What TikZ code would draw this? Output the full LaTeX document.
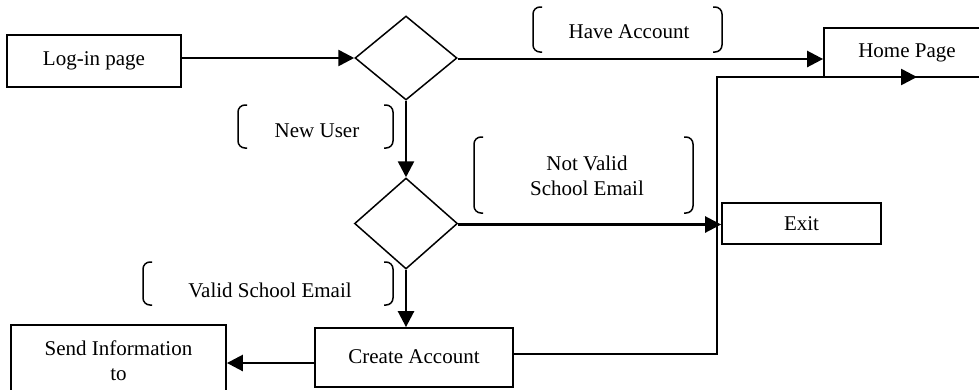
\documentclass[tikz,border=0pt]{standalone}
\usepackage{fontspec}
\setmainfont{Liberation Serif}
\usetikzlibrary{shapes.geometric,arrows.meta}

\tikzset{
  box/.style={draw, line width=1.8pt, inner sep=0pt, align=center},
  decision/.style={draw, diamond, line width=1.5pt, inner sep=0pt},
  flow/.style={line width=2.6pt, -{Triangle[length=16pt,width=16pt]}},
  tag/.style={inner sep=0pt, align=center},
  brace/.style={line width=1.5pt, rounded corners=7pt},
}

% left/right bracket pair around a label: left x, right x, top y, bottom y
\newcommand{\bracketpair}[4]{%
  \draw[brace] (#1+9,#3) -- (#1,#3) -- (#1,#4) -- (#1+9,#4);
  \draw[brace] (#2-9,#3) -- (#2,#3) -- (#2,#4) -- (#2-9,#4);
}

\begin{document}
\begin{tikzpicture}[x=1pt, y=-1pt, font=\fontsize{21}{25}\selectfont]
\useasboundingbox (0,0) rectangle (979,389);
\clip (0,0) rectangle (979,389);

% boxes and decisions
\node[box, minimum width=174pt, minimum height=52pt] (login) at (94,61) {Log-in page};
\node[decision, minimum width=102pt, minimum height=84pt] (d1) at (406,58) {};
\node[box, minimum width=166pt, minimum height=49pt] (home) at (907,52.5) {\raisebox{-2pt}{Home Page}};
\node[decision, minimum width=103pt, minimum height=91pt] (d2) at (406,223.5) {};
\node[box, minimum width=159pt, minimum height=41pt] (exit) at (801.5,223.5) {Exit};
\node[box, minimum width=198pt, minimum height=59pt] (create) at (414,357.5) {\raisebox{2pt}{Create Account}};
\node[box, minimum width=215pt, minimum height=71pt] (send) at (118.5,360.5) {Send Information\\to};

% branch labels with their brackets
\node[tag] (lhave) at (629,32) {Have Account};
\bracketpair{533}{722}{7}{52}
\node[tag] (lnew) at (317,131) {New User};
\bracketpair{238}{393}{105}{148}
\node[tag] (lnot) at (587,176) {Not Valid\\School Email};
\bracketpair{474}{693}{137}{213}
\node[tag] (lvalid) at (270,290) {Valid School Email};
\bracketpair{143}{393}{262}{305}

% connectors
\coordinate (jog) at (717,77);
\coordinate (homein) at (917,77);
\draw[flow] (login.east |- d1.west) -- (d1.west);
\draw[flow] ([yshift=-1pt]d1.east) -- ([yshift=-1pt]d1.east -| home.west);
\draw[flow] (d1.south) -- (d2.north);
\draw[flow] ([yshift=-1pt]d2.east) -- ([yshift=-1pt]d2.east -| exit.west);
\draw[flow] (d2.south) -- (d2.south |- create.north);
\draw[flow] ([yshift=-5.5pt]create.west) -- ([yshift=-5.5pt]create.west -| send.east);
\draw[flow] ([yshift=3.5pt]create.east) -| (jog) -- (homein);
\end{tikzpicture}
\end{document}
